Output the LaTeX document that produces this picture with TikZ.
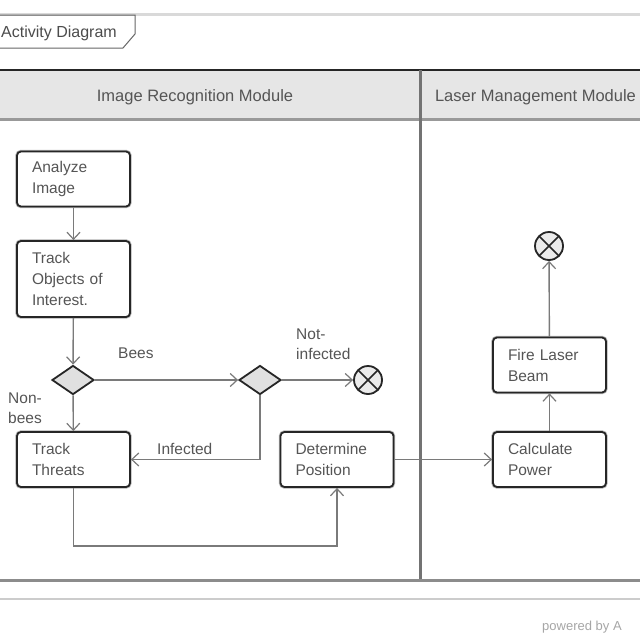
\documentclass[tikz,border=0pt]{standalone}
\usepackage{fontspec}
\setmainfont{Liberation Sans}
\usetikzlibrary{arrows.meta,shapes.geometric}
\definecolor{txt}{HTML}{555555}
\definecolor{edge}{HTML}{7A7A7A}
\definecolor{band}{HTML}{E6E6E6}
\tikzset{
  actbox/.style={rectangle, rounded corners=4pt, draw=black!85, line width=1.8pt,
    preaction={draw=black!30, line width=3.4pt},
    fill=white, text=txt, text width=83pt, align=left, inner xsep=15pt,
    minimum height=55pt, font=\fontsize{15.5}{21}\selectfont},
  decision/.style={diamond, draw=black!85, line width=1.8pt, fill=black!12,
    minimum width=42pt, minimum height=29pt, inner sep=0pt, aspect=1.45},
  endnode/.style={circle, draw=black!85, line width=1.8pt, fill=black!8,
    minimum size=28pt, inner sep=0pt,
    path picture={\draw[black!85, line width=1.6pt]
      (path picture bounding box.north west) -- (path picture bounding box.south east)
      (path picture bounding box.north east) -- (path picture bounding box.south west);}},
  flow/.style={draw=edge, line width=1.4pt,
    -{Straight Barb[length=7pt,width=13pt,line width=1.2pt]}},
  lbl/.style={text=txt, align=left, font=\fontsize{15.5}{20}\selectfont, inner sep=0pt},
  lane/.style={text=txt, font=\fontsize{16.5}{18}\selectfont, inner sep=0pt}
}
\begin{document}
\begin{tikzpicture}[x=1pt,y=-1pt]
\useasboundingbox (0,0) rectangle (640,640);
\fill[white] (0,0) rectangle (640,640);

% diagram frame and tab
\draw[black!15, line width=3pt] (0,14) -- (640,14);
\draw[black!60, line width=1pt] (-1,15) -- (135,15) -- (135,34) -- (123,48) -- (-1,48);
\node[lane, anchor=west, text=black!70, font=\fontsize{16}{18}\selectfont] (tab) at (1,33) {Activity Diagram};

% swimlane headers
\fill[band] (0,70) rectangle (640,119);
\draw[black!85, line width=2pt] (0,70) -- (640,70);
\draw[black!40, line width=3pt] (0,119) -- (640,119);
\draw[black!55, line width=3pt] (420,70) -- (420,580);
\draw[black!45, line width=3pt] (0,580) -- (640,580);
\draw[black!20, line width=1.5pt] (0,599) -- (640,599);
\node[lane] (lane1) at (195,97) {Image Recognition Module};
\node[lane] (lane2) at (535.5,97) {Laser Management Module};

% actions
\node[actbox] (analyze) at (73.5,179) {Analyze\\Image};
\node[actbox, minimum height=76pt] (track) at (73.5,279) {Track\\Objects of\\Interest.};
\node[decision] (dec1) at (73,380) {};
\node[decision] (dec2) at (260,380) {};
\node[endnode] (end1) at (368,380) {};
\node[actbox] (threats) at (73.5,459.5) {Track\\Threats};
\node[actbox] (determine) at (337,459.5) {Determine\\Position};
\node[actbox] (calc) at (549.5,459.5) {Calculate\\Power};
\node[actbox] (fire) at (549.5,365) {Fire Laser\\Beam};
\node[endnode] (end2) at (549,246) {};

% control flows
\draw[flow] (analyze) -- (track);
\draw[flow] (track) -- (dec1);
\draw[flow] (dec1) -- (dec2);
\draw[flow] (dec2) -- (end1);
\draw[flow] (dec1) -- (threats);
\draw[flow] (dec2.south) |- (threats.east);
\draw[flow] (threats.south) -- ++(0,58) -| (determine.south);
\draw[flow] (determine) -- (calc);
\draw[flow] (calc) -- (fire);
\draw[flow] (fire) -- (end2);

% guards
\node[lbl, anchor=west] (gbees) at (118,353) {Bees};
\node[lbl, anchor=west] (gnot) at (296,344) {Not-\\infected};
\node[lbl, anchor=west] (gnon) at (8,408) {Non-\\bees};
\node[lbl, anchor=west] (ginf) at (157,449) {Infected};

% footer
\node[lane, anchor=west, text=black!35, font=\fontsize{13}{15}\selectfont] (credit) at (542,627) {powered by A};
\end{tikzpicture}
\end{document}
